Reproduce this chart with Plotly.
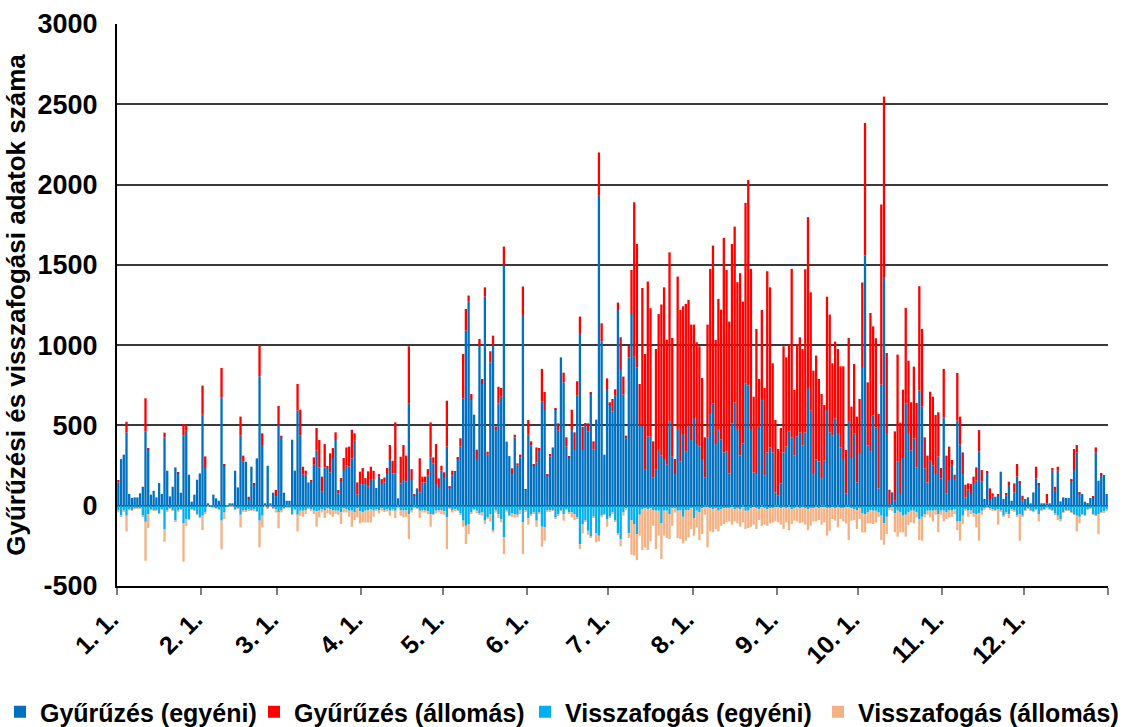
import plotly.graph_objects as go

# ---- data (daily values, 1 Jan .. 31 Dec) ----
month_labels = ["1. 1.", "2. 1.", "3. 1.", "4. 1.", "5. 1.", "6. 1.",
                "7. 1.", "8. 1.", "9. 1.", "10. 1.", "11. 1.", "12. 1."]
month_start = [0, 31, 59, 90, 120, 151, 181, 212, 243, 273, 304, 334]
n_days = 365
y_tick_values = [-500, 0, 500, 1000, 1500, 2000, 2500, 3000]
y_tick_labels = ["-500", "0", "500", "1000", "1500", "2000", "2500", "3000"]

gyuruzes_egyeni = [
    145, 290, 318, 457, 73, 48, 52, 52, 77, 118,
    461, 349, 69, 93, 52, 141, 73, 426, 218, 58,
    118, 239, 201, 81, 436, 467, 193, 25, 69, 162,
    201, 567, 235, 15, 3, 69, 46, 31, 675, 253,
    3, 15, 15, 218, 114, 436, 274, 274, 46, 243,
    131, 295, 806, 378, 15, 249, 15, 81, 60, 505,
    422, 81, 31, 31, 411, 218, 592, 436, 193, 193,
    145, 156, 255, 343, 239, 87, 239, 235, 208, 297,
    409, 77, 160, 222, 249, 243, 295, 405, 69, 135,
    135, 135, 118, 166, 166, 110, 181, 135, 145, 197,
    285, 201, 201, 46, 139, 160, 152, 638, 160, 62,
    108, 83, 145, 145, 187, 301, 264, 135, 110, 218,
    172, 368, 114, 187, 212, 295, 368, 669, 1090, 1273,
    658, 567, 285, 997, 758, 1302, 318, 893, 997, 471,
    638, 679, 1495, 399, 309, 197, 426, 249, 301, 1188,
    102, 442, 374, 253, 270, 353, 648, 596, 191, 307,
    363, 602, 467, 924, 768, 368, 301, 471, 347, 685,
    1070, 347, 505, 461, 700, 349, 536, 1930, 1022, 318,
    727, 633, 588,
    685, 1219, 845, 692, 420, 924, 1194, 928, 862, 503,
    498, 228, 430, 430, 177, 228, 353, 312, 285, 255,
    523, 305, 197, 478, 276, 447, 336, 505, 409, 546,
    384, 370, 291, 177, 426, 571, 638, 384, 472, 411,
    332, 336, 201, 513, 644, 472, 312, 388, 762, 748,
    472, 208, 197, 492, 658, 187, 332, 363, 332, 83,
    62, 139, 332, 368, 461, 426, 312, 432, 457, 374,
    457, 733, 592, 197, 287, 276, 172, 280, 596, 457,
    436, 544, 453, 363, 285, 77, 523, 297, 451, 145,
    322, 858,
    1558, 374, 336, 561, 488, 108, 754, 1419, 447, 10,
    83, 31, 276, 73, 297, 638, 453, 343, 420, 239,
    717, 617, 233, 145, 280, 249, 197, 307, 170, 550,
    77, 160, 255, 166, 530, 380, 197, 52, 100, 73,
    135, 156, 339, 152, 42, 208, 35, 56, 56, 62,
    212, 42, 62, 129, 31, 83, 181, 145, 31, 42,
    52, 15, 83, 170, 135, 15, 15, 15, 15, 218,
    93, 218, 27, 52, 48, 48, 160, 222, 332, 77,
    73, 25, 17, 48, 52, 332, 156, 197, 191, 73,
]

gyuruzes_allomas = [
    15, 0, 0, 66, 0, 0, 0, 0, 0, 0,
    208, 6, 0, 0, 0, 0, 0, 29, 0, 0,
    0, 0, 7, 0, 73, 36, 0, 0, 0, 0,
    0, 181, 72, 0, 0, 0, 0, 0, 183, 5,
    0, 0, 0, 0, 0, 119, 38, 0, 10, 0,
    8, 0, 191, 73, 0, 0, 0, 0, 38, 116,
    14, 0, 0, 0, 0, 0, 166, 162, 50, 25,
    0, 4, 46, 141, 170, 94, 145, 8, 118, 62,
    48, 21, 12, 75, 114, 125, 178, 46, 76, 77,
    100, 37, 96, 77, 52, 0, 16, 31, 31, 38,
    93, 79, 318, 0, 166, 218, 160, 355, 68, 11,
    0, 212, 36, 36, 41, 218, 37, 249, 60, 31,
    36, 286, 4, 31, 2, 6, 52, 276, 135, 36,
    38, 0, 64, 42, 31, 58, 18, 69, 62, 23,
    103, 54, 119, 0, 0, 36, 16, 15, 17, 177,
    2, 92, 27, 6, 93, 4, 204, 112, 6, 15,
    0, 6, 46, 0, 61, 58, 6, 127, 110, 90,
    108, 145, 4, 52, 4, 52, 0, 270, 114, 0,
    66, 11, 77,
    40, 46, 204, 112, 16, 73, 274, 962, 768, 255,
    858, 717, 966, 800, 224, 748, 841, 941, 1075, 779,
    1055, 740, 94, 949, 943, 795, 921, 777, 719, 582,
    634, 623, 504, 249, 702, 904, 982, 648, 816, 810,
    1336, 1132, 946, 1117, 1094, 920, 1136, 883, 1124, 1281,
    1003, 471, 904, 297, 561, 546, 1128, 997, 555, 451,
    291, 345, 661, 556, 542, 1049, 409, 575, 592, 602,
    1016, 1064, 737, 644, 648, 513, 524, 347, 706, 733,
    451, 478, 523, 505, 583, 270, 522, 320, 432, 410,
    343, 532,
    826, 394, 864, 556, 555, 463, 1122, 1129, 504, 90,
    0, 432, 665, 444, 426, 594, 450, 301, 446, 401,
    650, 484, 193, 167, 430, 430, 368, 275, 65, 302,
    235, 208, 30, 27, 297, 175, 135, 79, 39, 62,
    46, 83, 132, 70, 0, 4, 73, 21, 0, 7,
    0, 0, 17, 21, 0, 56, 79, 7, 31, 0,
    0, 0, 0, 73, 4, 0, 0, 58, 0, 17,
    25, 25, 0, 0, 0, 0, 4, 131, 46, 4,
    0, 0, 0, 0, 4, 31, 0, 7, 0, 0,
]

visszafogas_egyeni = [
    -31, -62, -31, -62, -21, -27, -15, -15, -15, -62,
    -100, -52, -21, -27, -27, -48, -21, -145, -31, -15,
    -27, -93, -31, -21, -110, -83, -83, -21, -27, -52,
    -73, -62, -42, -6, -2, -10, -15, -21, -93, -42,
    -2, -6, -6, -21, -15, -56, -31, -31, -21, -27,
    -21, -35, -93, -62, -6, -15, -6, -15, -21, -42,
    -31, -15, -10, -10, -52, -21, -56, -31, -31, -27,
    -15, -21, -31, -35, -31, -21, -27, -15, -21, -27,
    -31, -31, -42, -15, -21, -31, -31, -42, -15, -35,
    -42, -31, -27, -21, -31, -21, -27, -15, -27, -21,
    -31, -21, -31, -10, -27, -31, -27, -52, -31, -10,
    -15, -31, -27, -31, -35, -52, -52, -31, -31, -27,
    -35, -73, -15, -31, -21, -27, -48, -93, -125, -114,
    -42, -21, -31, -48, -42, -93, -73, -52, -156, -27,
    -52, -83, -197, -31, -62, -48, -52, -56, -27, -104,
    -31, -77, -52, -42, -93, -42, -131, -135, -31, -31,
    -27, -73, -52, -31, -52, -21, -42, -42, -52, -73,
    -239, -114, -93, -156, -193, -69, -172, -187, -62, -52,
    -83, -69, -42,
    -93, -172, -208, -42, -15, -172, -89, -114, -177, -56,
    -21, -15, -21, -15, -27, -31, -31, -110, -31, -31,
    -52, -15, -15, -31, -27, -69, -27, -27, -15, -77,
    -31, -42, -15, -10, -10, -15, -21, -15, -31, -21,
    -15, -15, -15, -10, -21, -15, -21, -10, -31, -31,
    -15, -10, -15, -21, -10, -15, -21, -15, -15, -10,
    -10, -15, -10, -15, -10, -21, -15, -10, -15, -10,
    -15, -21, -15, -15, -10, -15, -10, -10, -15, -15,
    -10, -15, -10, -15, -15, -10, -10, -15, -21, -27,
    -15, -48,
    -52, -42, -27, -31, -31, -42, -62, -110, -69, -15,
    -10, -48, -31, -42, -62, -56, -42, -31, -31, -42,
    -83, -69, -52, -31, -31, -31, -27, -52, -31, -31,
    -42, -27, -31, -21, -98, -98, -62, -21, -31, -27,
    -48, -52, -48, -31, -15, -10, -15, -21, -27, -21,
    -31, -62, -42, -52, -21, -31, -62, -52, -62, -31,
    -15, -31, -35, -21, -52, -27, -21, -10, -21, -27,
    -48, -62, -83, -42, -27, -31, -42, -52, -62, -69,
    -52, -62, -21, -15, -52, -62, -52, -42, -35, -21,
]

visszafogas_allomas = [
    -11, -3, -3, -98, -2, -2, -2, -2, -2, -3,
    -243, -87, -2, -2, -2, -3, -2, -79, -2, -2,
    -2, -4, -4, -2, -239, -42, -3, -2, -2, -3,
    -3, -90, -10, -1, 0, -1, -1, -2, -179, -41,
    0, -1, -1, -2, -2, -79, -3, -3, -10, -3,
    -10, -3, -167, -73, -1, -1, -1, -2, -21, -99,
    -11, -2, -2, -2, -3, -2, -104, -31, -38, -25,
    -2, -6, -21, -96, -42, -21, -50, -31, -35, -42,
    -19, -25, -72, -27, -21, -38, -100, -47, -58, -75,
    -62, -73, -77, -83, -38, -10, -21, -16, -8, -14,
    -31, -10, -46, -1, -35, -42, -42, -156, -11, -1,
    -1, -46, -15, -11, -17, -79, -4, -17, -11, -25,
    -21, -197, -1, -11, -14, -4, -8, -38, -114, -63,
    -10, -1, -17, -8, -20, -21, -10, -46, -10, -15,
    -25, -21, -104, -11, -2, -21, -21, -17, -25, -197,
    -2, -41, -10, -6, -38, -10, -124, -83, -2, -4,
    -1, -4, -10, -1, -41, -1, -6, -31, -37, -10,
    -31, -58, -5, -25, -4, -4, -56, -35, -11, -4,
    -48, -4, -10,
    -5, -5, -45, -20, -12, -29, -216, -197, -162, -131,
    -255, -245, -255, -207, -98, -239, -156, -222, -156, -170,
    -156, -110, -27, -170, -181, -166, -191, -170, -130, -110,
    -104, -172, -162, -46, -250, -145, -145, -130, -129, -104,
    -99, -89, -83, -108, -77, -95, -110, -94, -114, -108,
    -116, -108, -130, -68, -115, -103, -104, -95, -89, -88,
    -94, -103, -135, -89, -142, -93, -78, -88, -95, -94,
    -103, -131, -110, -83, -88, -74, -108, -94, -172, -141,
    -73, -78, -125, -68, -83, -100, -204, -78, -68, -118,
    -68, -118,
    -114, -68, -83, -83, -73, -27, -152, -133, -108, -12,
    -21, -118, -162, -124, -104, -137, -76, -73, -79, -31,
    -131, -149, -21, -25, -42, -67, -29, -114, -25, -67,
    -41, -46, -38, -31, -54, -120, -52, -6, -38, -25,
    -21, -83, -170, -25, -6, -1, -12, -6, -4, -97,
    -4, -7, -6, -25, -6, -4, -7, -166, -7, -1,
    -1, -1, -1, -1, -46, -1, -1, -1, -1, -1,
    -4, -27, -15, -1, -1, -1, -1, -1, -98, -41,
    -1, -1, -1, -1, -1, -1, -125, -1, -7, -10,
]

series_names = ["Gyűrűzés (egyéni)", "Gyűrűzés (állomás)",
                "Visszafogás (egyéni)", "Visszafogás (állomás)"]
series_colors = ["#0070C0", "#FF0000", "#00B0F0", "#F4B183"]

for s in (gyuruzes_egyeni, gyuruzes_allomas, visszafogas_egyeni, visszafogas_allomas):
    assert len(s) == n_days, len(s)

days = list(range(n_days))

FONT = "Arial, 'Liberation Sans', sans-serif"
W, H = 1126, 727

fig = go.Figure()
legend_ids = ["legend", "legend2", "legend3", "legend4"]
for name, vals, col, lg in zip(series_names,
                               [gyuruzes_egyeni, gyuruzes_allomas,
                                visszafogas_egyeni, visszafogas_allomas],
                               series_colors, legend_ids):
    fig.add_trace(go.Bar(x=days, y=vals, name=name, legend=lg,
                         marker=dict(color=col, line=dict(width=0))))

# tick marks at the month boundaries (plus the year end, unlabelled)
boundaries = [d - 0.5 for d in month_start] + [n_days - 0.5]
ticktext = month_labels + [""]

# one single-item legend per series, laid out in a row at the bottom
legend_left_px = [-4, 254, 525, 818]
legend_layout = {}
for lg, px in zip(legend_ids, legend_left_px):
    legend_layout[lg] = dict(
        orientation="h", xref="container", yref="container",
        x=px / W, xanchor="left", y=(H - 712) / H, yanchor="middle",
        font=dict(family=FONT, size=25, weight="bold", color="black"),
        itemwidth=30, bgcolor="rgba(0,0,0,0)", borderwidth=0,
    )

fig.update_layout(
    width=W, height=H,
    barmode="relative", bargap=0.15,
    plot_bgcolor="white", paper_bgcolor="white",
    margin=dict(l=117, r=18, t=24, b=141, autoexpand=False),
    font=dict(family=FONT, color="black"),
    showlegend=True,
    **legend_layout,
)
fig.update_xaxes(
    range=[-0.5, n_days - 0.5], tickmode="array",
    tickvals=boundaries, ticktext=ticktext, tickangle=-45,
    ticklabelshift=-6,
    tickfont=dict(family=FONT, size=25, weight="bold", color="black"),
    ticks="outside", ticklen=7, tickwidth=2, tickcolor="#808080",
    showline=True, linecolor="black", linewidth=2, showgrid=False,
    zeroline=False, automargin=False,
)
fig.update_yaxes(
    range=[-500, 3000], tickmode="array",
    tickvals=y_tick_values, ticktext=y_tick_labels,
    tickfont=dict(family=FONT, size=27, weight="bold", color="black"),
    ticklabelstandoff=12,
    showgrid=True, gridcolor="#3a3a3a", gridwidth=1.5,
    showline=True, linecolor="black", linewidth=2,
    zeroline=True, zerolinecolor="#1f3550", zerolinewidth=2,
    title=dict(text="Gyűrűzési és visszafogási adatok száma",
               font=dict(family=FONT, size=26, weight="bold", color="black"),
               standoff=4),
    automargin=False,
)

fig.write_html("out.html",
               config={"displayModeBar": False},
               post_script="document.body.style.margin='0px';document.body.style.padding='0px';")
